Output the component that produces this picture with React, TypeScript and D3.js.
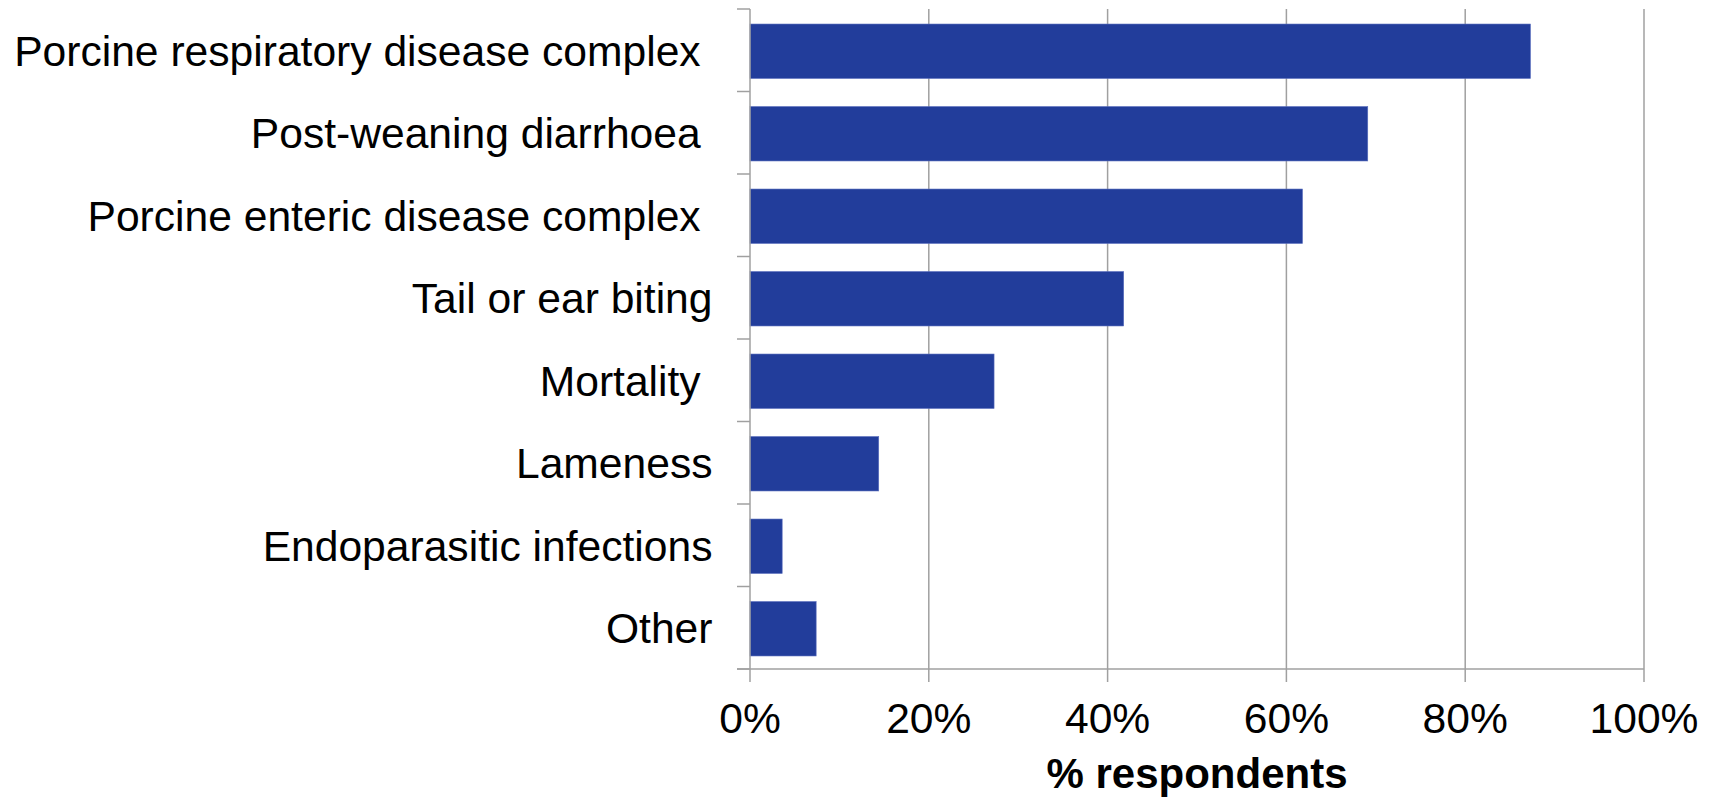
import React from 'react';
import * as d3 from 'd3';

const categories = [
  'Porcine respiratory disease complex ',
  'Post-weaning diarrhoea ',
  'Porcine enteric disease complex ',
  'Tail or ear biting',
  'Mortality ',
  'Lameness',
  'Endoparasitic infections',
  'Other',
];
const values = [87.3, 69.1, 61.8, 41.8, 27.3, 14.4, 3.6, 7.4];
const xTicks = [0, 20, 40, 60, 80, 100];
const xTickLabels = ['0%', '20%', '40%', '60%', '80%', '100%'];
const xTitle = '% respondents';

const FONT = '"Liberation Sans", Arial, Helvetica, sans-serif';

export default function App() {
  const W = 1712;
  const H = 798;
  const top = 9;
  const bottom = 669;
  const x = d3.scaleLinear().domain([0, 100]).range([750, 1644]);
  const y = d3
    .scaleBand<string>()
    .domain(categories)
    .range([top, bottom])
    .paddingInner(0.34)
    .paddingOuter(0.17);
  const step = y.step();
  const edges = d3.range(categories.length + 1).map((i) => top + i * step);
  const gridColor = '#a0a0a0';
  const x0 = x(0);

  return (
    <div style={{ position: 'absolute', left: 0, top: 0 }}>
      <svg width={W} height={H} style={{ display: 'block', background: '#fff' }}>
        {xTicks.slice(1).map((t) => (
          <line key={'g' + t} x1={x(t)} x2={x(t)} y1={top} y2={bottom + 13} stroke={gridColor} strokeWidth={1.5} />
        ))}
        {categories.map((c, i) => (
          <rect
            key={c}
            x={x0}
            y={y(c)! + 1}
            width={x(values[i]) - x0}
            height={y.bandwidth()}
            fill="#223D9B"
            stroke="#5b6fbf"
            strokeWidth={0.6}
          />
        ))}
        <line x1={x0} x2={x0} y1={top} y2={bottom + 13} stroke={gridColor} strokeWidth={1.5} />
        {edges.map((e, i) => (
          <line key={'yt' + i} x1={x0 - 13} x2={x0} y1={e} y2={e} stroke={gridColor} strokeWidth={1.5} />
        ))}
        <line x1={x0 - 13} x2={x(100)} y1={bottom} y2={bottom} stroke={gridColor} strokeWidth={1.5} />
        {categories.map((c) => (
          <text
            key={'l' + c}
            x={712.5}
            y={y(c)! + y.bandwidth() / 2}
            dy="0.36em"
            textAnchor="end"
            fontFamily={FONT}
            fontSize={42.6}
            fill="#000"
            style={{ whiteSpace: 'pre' }}
          >
            {c}
          </text>
        ))}
        {xTicks.map((t, i) => (
          <text
            key={'xl' + t}
            x={x(t)}
            y={733}
            textAnchor="middle"
            fontFamily={FONT}
            fontSize={42.6}
            fill="#000"
          >
            {xTickLabels[i]}
          </text>
        ))}
        <text
          x={(x(0) + x(100)) / 2}
          y={788}
          textAnchor="middle"
          fontFamily={FONT}
          fontSize={42}
          fontWeight="bold"
          fill="#000"
        >
          {xTitle}
        </text>
      </svg>
    </div>
  );
}
